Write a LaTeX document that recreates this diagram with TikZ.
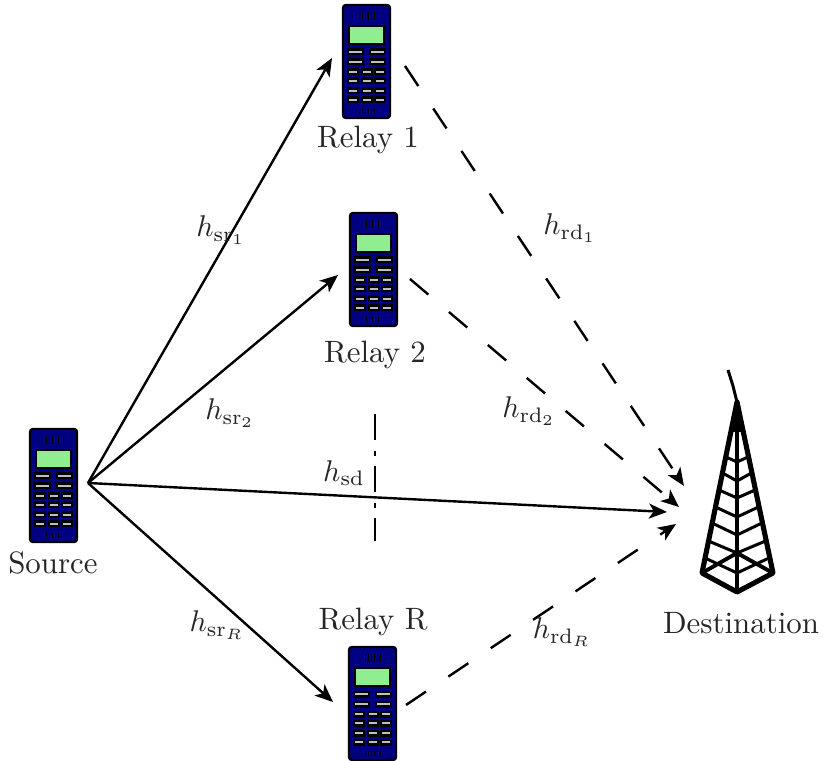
\documentclass[tikz,border=0pt]{standalone}
\usepackage{amsmath}
\usepackage{amssymb}
\usetikzlibrary{positioning,calc,arrows.meta}
\definecolor{phonebody}{RGB}{0,0,128}
\definecolor{phonescreen}{RGB}{144,238,144}
\definecolor{phonekey}{RGB}{190,190,190}
\tikzset{
    link/.style={thick,->},
    dashlink/.style={thick,->,dash pattern=on 8pt off 9pt},
    lbl/.style={inner sep=0pt,text=black!85,font=\fontsize{10.3}{12}\selectfont},
    strut/.style={line width=1pt},
    pics/phone/.style={code={
        \draw[line width=0.8pt,fill=phonebody,rounded corners=1pt] (0,0) rectangle (47,113);
        \draw[line width=0.6pt,fill=phonescreen] (6,21) rectangle (41,39);
        \foreach \y in {47,57} {
            \foreach \x in {6,28} {
                \fill[black] (\x-2,\y-3.5) rectangle (\x+15,\y+3.5);
                \fill[phonekey] (\x,\y-1.2) rectangle (\x+13,\y+1.2);
            }
        }
        \foreach \y in {67,76,86,95} {
            \foreach \x in {6,20,33} {
                \fill[black] (\x-2,\y-3.5) rectangle (\x+10,\y+3.5);
                \fill[phonekey] (\x,\y-1.2) rectangle (\x+8,\y+1.2);
            }
        }
        \foreach \x in {16,19,...,31} {
            \draw[black,line width=0.3pt] (\x,7) -- (\x,15);
            \draw[black,line width=0.3pt] (\x,104) -- (\x,109);
        }
    }},
}
\begin{document}
\begin{tikzpicture}[>={Stealth[length=6pt,width=5pt,inset=1.6pt]},x=0.3333pt,y=-0.3333pt]
    \useasboundingbox (0,0) rectangle (823,761);
    % phones
    \pic at (343,5) {phone};
    \pic at (350,213) {phone};
    \pic at (349,647) {phone};
    \pic at (30,429) {phone};
    % tower
    \coordinate (apex) at (737,402);
    \coordinate (footl) at (702,573);
    \coordinate (footr) at (773,573);
    \coordinate (footm) at (737,592);
    \coordinate (mid) at (737,553);
    \draw[line width=1pt] (728,370) -- (733,386) -- (737,402);
    \draw[line width=1.7pt,line join=round] (footm) -- (footl) -- (apex) -- (footr) -- cycle;
    \draw[line width=1.5pt] (apex) -- (footm);
    \draw[line width=1.3pt] (footl) -- (mid) -- (footr);
    \fill (apex) -- (732,432) -- (742,432) -- cycle;
    \foreach \xa/\ya/\yb in {726/457/462, 722.5/473/481, 719/490/498, 715.5/507/517, 712/523/535, 708.5/541/553, 705/558/573} {
        \draw[strut] (\xa,\ya) -- (737,\yb);
        \draw[strut] (1474-\xa,\ya) -- (737,\yb);
    }
    % endpoints
    \coordinate (src) at (88,483);
    \coordinate (inrelay1) at (332,58);
    \coordinate (inrelay2) at (338,275);
    \coordinate (inrelayR) at (333,702);
    \coordinate (indest) at (667,512);
    \coordinate (outrelay1) at (405,66);
    \coordinate (outrelay2) at (410,279);
    \coordinate (outrelayR) at (406,705);
    \coordinate (dest1) at (684,486);
    \coordinate (dest2) at (679,507);
    \coordinate (destR) at (676,524);
    \coordinate (cutt) at (375,414);
    \coordinate (cutb) at (375,541);
    % links
    \draw[link] (src) -- (inrelay1);
    \draw[link] (src) -- (inrelay2);
    \draw[link] (src) -- (inrelayR);
    \draw[link] (src) -- (indest);
    \draw[dashlink] (outrelay1) -- (dest1);
    \draw[dashlink] (outrelay2) -- (dest2);
    \draw[dashlink] (outrelayR) -- (destR);
    \draw[thick,dash pattern=on 8.7pt off 3.5pt on 1.7pt off 3.4pt] (cutt) -- (cutb);
    % labels
    \node[lbl] (relay1) at (368,140) {Relay 1};
    \node[lbl] (relay2) at (375,355) {Relay 2};
    \node[lbl] (relayR) at (373,622) {Relay R};
    \node[lbl] (source) at (53,563) {Source};
    \node[lbl] (dest) at (741,623) {Destination};
    \node[lbl] (hsr1) at (221,230) {$h_{\mathrm{sr}_1}$};
    \node[lbl] (hrd1) at (570,228) {$h_{\mathrm{rd}_1}$};
    \node[lbl] (hsr2) at (230,413) {$h_{\mathrm{sr}_2}$};
    \node[lbl] (hrd2) at (529,411) {$h_{\mathrm{rd}_2}$};
    \node[lbl] (hsd) at (344,473) {$h_{\mathrm{sd}}$};
    \node[lbl] (hsrR) at (217,625) {$h_{\mathrm{sr}_R}$};
    \node[lbl] (hrdR) at (562,632) {$h_{\mathrm{rd}_R}$};
\end{tikzpicture}
\end{document}
